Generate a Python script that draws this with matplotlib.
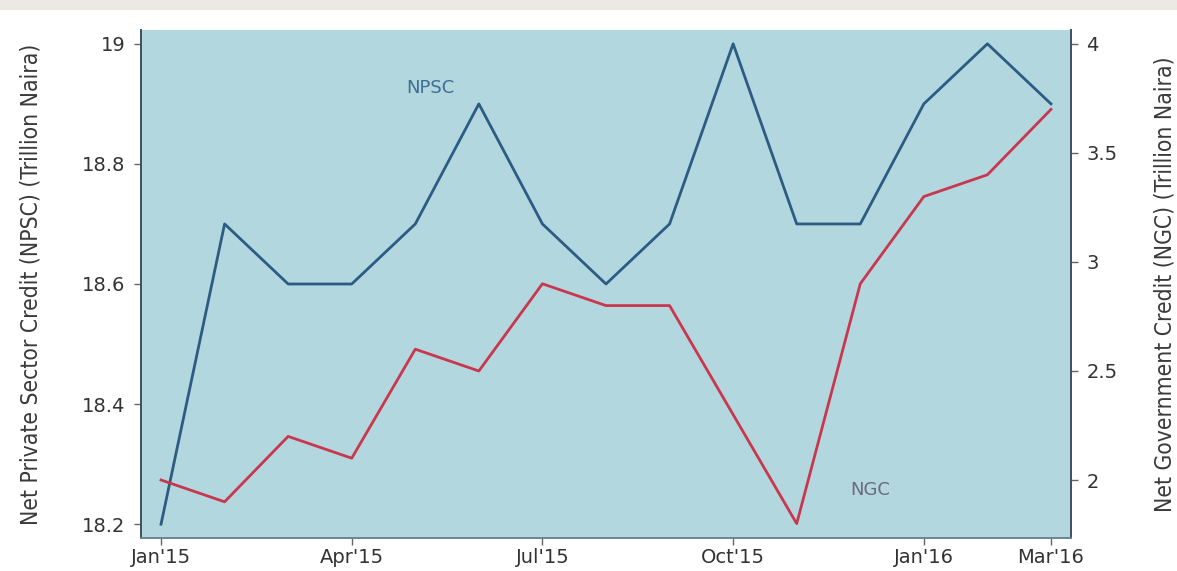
import matplotlib
matplotlib.use("Agg")
import matplotlib.pyplot as plt
from matplotlib.patches import Rectangle
from matplotlib import font_manager as fm

months = ["Jan'15", "Feb'15", "Mar'15", "Apr'15", "May'15", "Jun'15", "Jul'15",
          "Aug'15", "Sep'15", "Oct'15", "Nov'15", "Dec'15", "Jan'16", "Feb'16", "Mar'16"]
npsc = [18.2, 18.7, 18.6, 18.6, 18.7, 18.9, 18.7, 18.6, 18.7, 19.0, 18.7, 18.7, 18.9, 19.0, 18.9]
ngc = [2.0, 1.9, 2.2, 2.1, 2.6, 2.5, 2.9, 2.8, 2.8, 2.3, 1.8, 2.9, 3.3, 3.4, 3.7]
xtick_labels = ["Jan'15", "Apr'15", "Jul'15", "Oct'15", "Jan'16", "Mar'16"]
xtick_pos = [0, 3, 6, 9, 12, 14]
left_ticks = [18.2, 18.4, 18.6, 18.8, 19.0]
left_tick_labels = ["18.2", "18.4", "18.6", "18.8", "19"]
right_ticks = [2, 2.5, 3, 3.5, 4]
right_tick_labels = ["2", "2.5", "3", "3.5", "4"]

# find a narrow / condensed font for the axis titles
cands = []
for f in fm.fontManager.ttflist:
    nm = (f.name + " " + f.fname).lower()
    if "narrow" in nm and "liberation" in nm and "bold" not in nm and "italic" not in nm:
        cands.append((0, f.fname))
    elif "condensed" in nm and "dejavu" in nm and "bold" not in nm and "oblique" not in nm:
        cands.append((1, f.fname))
    elif "condensed" in nm and "bold" not in nm and "italic" not in nm:
        cands.append((2, f.fname))
cands.sort()
if cands:
    label_fp = fm.FontProperties(fname=cands[0][1], size=16.4 if cands[0][0] else 17.5)
else:
    label_fp = fm.FontProperties(family="DejaVu Sans", size=15)

fig = plt.figure(figsize=(11.77, 5.71), dpi=100)
fig.patch.set_facecolor("white")
fig.patches.append(Rectangle((0, 1 - 10/571), 1, 10/571, transform=fig.transFigure,
                             facecolor="#ece9e5", edgecolor="none", zorder=0))

ax = fig.add_axes([141/1177, 33/571, 930/1177, 508/571])
ax.set_facecolor("#b3d7df")
x = list(range(len(months)))
ax.plot(x, npsc, color="#2c5b83", lw=2.0, zorder=3)
ax.set_xlim(-0.315, 14.315)
ax.set_ylim(18.177, 19.023)
ax.set_yticks(left_ticks)
ax.set_yticklabels(left_tick_labels)
ax.set_xticks(xtick_pos)
ax.set_xticklabels(xtick_labels)

ax2 = ax.twinx()
ax2.plot(x, ngc, color="#c9374f", lw=2.0, zorder=3)
ax2.set_ylim(1.734, 4.064)
ax2.set_yticks(right_ticks)
ax2.set_yticklabels(right_tick_labels)

for a in (ax, ax2):
    a.spines["top"].set_visible(False)
    for s in ("left", "right"):
        a.spines[s].set_color("#44525e")
        a.spines[s].set_linewidth(1.3)
    a.spines["bottom"].set_color("#6d8794")
    a.spines["bottom"].set_linewidth(1.3)
    a.tick_params(axis="y", direction="out", length=5, width=1, color="#666666",
                  labelsize=14, labelcolor="#333333", pad=6)
ax.tick_params(axis="x", direction="out", length=5, width=1, color="#666666",
               labelsize=14, labelcolor="#333333", pad=2)

ax.set_ylabel("Net Private Sector Credit (NPSC) (Trillion Naira)", fontproperties=label_fp,
              color="#3a3a3a", labelpad=29)
ax2.set_ylabel("Net Government Credit (NGC) (Trillion Naira)", fontproperties=label_fp,
               color="#3a3a3a", labelpad=26)

ax.text(4.23, 18.927, "NPSC", color="#3d6e96", fontsize=13, ha="center", va="center")
ax2.text(11.15, 1.955, "NGC", color="#6e6a7a", fontsize=13, ha="center", va="center")

fig.savefig("out.png", dpi=100)
